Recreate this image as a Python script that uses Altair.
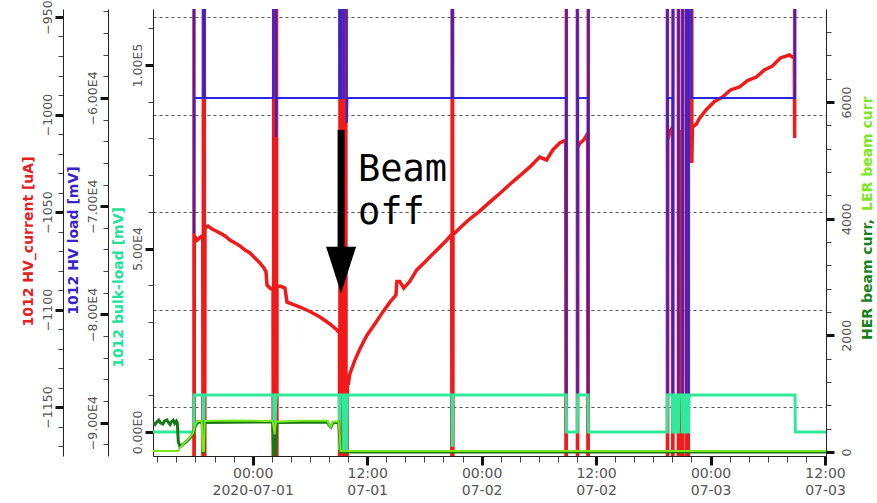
import altair as alt
import pandas as pd

# ---- data: (time "MM-DD HH:MM" in 2020, value) ----
# HV current [uA]; 0 = supply off, -1300 = transient far below the visible range
hv_current = [
    ("06-30 17:50", 0), ("06-30 17:51", -1300), ("06-30 17:53", -1062.3),
    ("06-30 18:11", -1064.4), ("06-30 18:29", -1063.0), ("06-30 18:46", -1062.0),
    ("06-30 18:49", -1300), ("06-30 18:52", 0), ("06-30 18:57", -1300),
    ("06-30 19:00", -1058.2), ("06-30 19:19", -1057.2), ("06-30 19:44", -1058.7),
    ("06-30 20:10", -1059.7), ("06-30 20:35", -1060.8), ("06-30 21:06", -1062.3),
    ("06-30 21:37", -1064.4), ("06-30 22:09", -1065.9), ("06-30 22:40", -1067.4),
    ("06-30 23:12", -1069.5), ("06-30 23:43", -1071.0), ("07-01 00:14", -1073.6),
    ("07-01 00:46", -1076.2), ("07-01 01:11", -1078.7), ("07-01 01:24", -1080.8),
    ("07-01 01:30", -1087.4), ("07-01 01:49", -1089.0), ("07-01 02:08", -1090.0),
    ("07-01 02:11", -1300), ("07-01 02:15", 0), ("07-01 02:24", -1300),
    ("07-01 02:28", 0), ("07-01 02:31", -1300), ("07-01 02:33", -1088.5),
    ("07-01 02:52", -1088.0), ("07-01 03:23", -1089.0), ("07-01 03:36", -1096.2),
    ("07-01 04:13", -1097.4), ("07-01 04:57", -1098.7), ("07-01 06:00", -1101.0),
    ("07-01 07:03", -1103.8), ("07-01 08:06", -1107.4), ("07-01 08:50", -1110.5),
    ("07-01 09:06", -1112.0), ("07-01 09:08", -1300), ("07-01 09:12", 0),
    ("07-01 09:18", -1125.0), ("07-01 09:27", -1131.0), ("07-01 09:33", -1300),
    ("07-01 09:40", 0), ("07-01 09:48", -1300), ("07-01 09:56", -1135.0),
    ("07-01 10:05", -1136.2), ("07-01 10:11", -1133.0), ("07-01 10:43", -1125.9),
    ("07-01 11:14", -1120.2), ("07-01 11:58", -1113.3), ("07-01 12:48", -1107.4),
    ("07-01 13:39", -1101.2), ("07-01 14:23", -1096.2), ("07-01 15:01", -1092.6),
    ("07-01 15:07", -1085.6), ("07-01 15:25", -1085.6), ("07-01 15:50", -1089.0),
    ("07-01 16:28", -1085.6), ("07-01 17:12", -1079.7), ("07-01 18:02", -1075.7),
    ("07-01 18:53", -1071.5), ("07-01 19:37", -1068.0), ("07-01 20:21", -1064.4),
    ("07-01 20:52", -1061.3), ("07-01 20:54", -1300), ("07-01 20:56", 0),
    ("07-01 20:58", -1300), ("07-01 21:00", -1061.0), ("07-01 21:11", -1060.8),
    ("07-01 21:43", -1058.2), ("07-01 22:45", -1053.6), ("07-01 23:48", -1049.5),
    ("07-02 00:51", -1044.9), ("07-02 01:54", -1040.5), ("07-02 02:56", -1035.9),
    ("07-02 03:59", -1031.5), ("07-02 05:02", -1027.0), ("07-02 06:05", -1021.8),
    ("07-02 06:49", -1023.3), ("07-02 07:27", -1018.2), ("07-02 08:11", -1014.6),
    ("07-02 08:49", -1013.1), ("07-02 08:52", -1300), ("07-02 08:55", 0),
    ("07-02 10:01", 0), ("07-02 10:03", -1300), ("07-02 10:05", -1016.7),
    ("07-02 10:20", -1014.6), ("07-02 10:35", -1013.6), ("07-02 10:50", -1012.1),
    ("07-02 11:07", -1009.7), ("07-02 11:10", -1300), ("07-02 11:13", 0),
    ("07-02 19:27", 0), ("07-02 19:29", -1300), ("07-02 19:31", -1013.1),
    ("07-02 19:42", -1009.0), ("07-02 20:01", -1006.4), ("07-02 20:03", -1300),
    ("07-02 20:05", 0), ("07-02 20:36", 0), ("07-02 20:38", -1300),
    ("07-02 20:40", -1008.5), ("07-02 21:00", -1009.5), ("07-02 21:02", -1300),
    ("07-02 21:04", 0), ("07-02 21:25", 0), ("07-02 21:27", -1300),
    ("07-02 21:29", -1010.0), ("07-02 21:40", -1300), ("07-02 21:42", 0),
    ("07-02 22:00", 0), ("07-02 22:02", -1024.9), ("07-02 22:06", -1006.4),
    ("07-02 22:31", -1004.9), ("07-02 22:50", -1002.0), ("07-02 23:34", -997.4),
    ("07-03 00:25", -993.3), ("07-03 01:15", -991.0), ("07-03 02:05", -987.4),
    ("07-03 03:02", -985.9), ("07-03 03:52", -982.6), ("07-03 04:48", -980.8),
    ("07-03 05:38", -977.2), ("07-03 06:29", -975.1), ("07-03 07:19", -971.0),
    ("07-03 08:16", -969.5), ("07-03 08:34", -970.5), ("07-03 08:47", -970.0),
    ("07-03 08:49", -1012.1), ("07-03 08:51", 0),
]

# HV load [mV]; 0 = supply off
hv_load = [
    ("06-30 17:50", 0), ("06-30 17:51", -72500), ("06-30 17:53", -60000),
    ("06-30 18:49", -60000), ("06-30 18:51", 0), ("06-30 18:56", 0),
    ("06-30 18:58", -60000), ("07-01 02:10", -60000), ("07-01 02:12", 0),
    ("07-01 02:24", 0), ("07-01 02:27", -63600), ("07-01 02:30", -60000),
    ("07-01 09:05", -60000), ("07-01 09:07", 0), ("07-01 09:15", 0),
    ("07-01 09:17", -60000), ("07-01 09:33", -60000), ("07-01 09:35", 0),
    ("07-01 09:48", 0), ("07-01 09:52", -62300), ("07-01 09:56", -60000),
    ("07-01 20:54", -60000), ("07-01 20:56", 0), ("07-01 20:58", -60000),
    ("07-02 08:51", -60000), ("07-02 08:53", -87400), ("07-02 08:55", 0),
    ("07-02 10:01", 0), ("07-02 10:03", -87400), ("07-02 10:05", -60000),
    ("07-02 11:08", -60000), ("07-02 11:10", -87400), ("07-02 11:13", 0),
    ("07-02 19:27", 0), ("07-02 19:29", -87400), ("07-02 19:31", -60000),
    ("07-02 20:01", -60000), ("07-02 20:03", -87400), ("07-02 20:05", 0),
    ("07-02 20:36", 0), ("07-02 20:38", -87400), ("07-02 20:40", 0),
    ("07-02 21:02", 0), ("07-02 21:04", -87400), ("07-02 21:06", 0),
    ("07-02 21:25", 0), ("07-02 21:27", -87400), ("07-02 21:29", 0),
    ("07-02 21:40", 0), ("07-02 21:42", -87400), ("07-02 21:44", 0),
    ("07-02 21:58", 0), ("07-02 22:00", -60000), ("07-03 08:51", -60000),
    ("07-03 08:53", 0),
]

# bulk load [mV]
bulk_load = [
    ("06-30 13:33", 0), ("06-30 17:50", 0), ("06-30 17:51", 10100),
    ("06-30 18:49", 10100), ("06-30 18:51", -4900), ("06-30 18:54", 10100),
    ("07-01 02:12", 10100), ("07-01 02:14", -4900), ("07-01 02:27", 10100),
    ("07-01 09:05", 10100), ("07-01 09:07", -4900), ("07-01 09:10", 10100),
    ("07-01 09:30", 10100), ("07-01 09:32", -4900), ("07-01 09:38", 10100),
    ("07-01 09:50", 10100), ("07-01 09:52", -4900), ("07-01 09:55", 10100),
    ("07-01 20:54", 10100), ("07-01 20:56", -4000), ("07-01 20:58", 10100),
    ("07-02 08:52", 10100), ("07-02 08:54", 0), ("07-02 10:02", 0),
    ("07-02 10:04", 10100), ("07-02 11:09", 10100), ("07-02 11:11", 0),
    ("07-02 19:27", 0), ("07-02 19:29", 10100), ("07-02 20:00", 10100),
    ("07-02 20:02", 0), ("07-02 20:13", 0), ("07-02 20:15", 10100),
    ("07-02 20:24", 10100), ("07-02 20:26", 0), ("07-02 20:38", 0),
    ("07-02 20:40", 10100), ("07-02 21:00", 10100), ("07-02 21:02", 0),
    ("07-02 21:15", 0), ("07-02 21:17", 10100), ("07-02 21:27", 10100),
    ("07-02 21:29", 0), ("07-02 21:42", 0), ("07-02 21:44", 10100),
    ("07-03 08:51", 10100), ("07-03 08:53", 0), ("07-03 12:06", 0),
]

# HER beam current [mA]
her_curr = [
    ("06-30 13:33", 500), ("06-30 13:45", 470), ("06-30 14:00", 520),
    ("06-30 14:10", 545), ("06-30 14:20", 500), ("06-30 14:35", 480),
    ("06-30 14:45", 530), ("06-30 15:00", 550), ("06-30 15:10", 505),
    ("06-30 15:20", 470), ("06-30 15:30", 520), ("06-30 15:40", 545),
    ("06-30 15:50", 490), ("06-30 16:00", 530), ("06-30 16:06", 500),
    ("06-30 16:12", 180), ("06-30 16:23", 90), ("06-30 16:55", 160),
    ("06-30 17:26", 240), ("06-30 17:45", 320), ("06-30 18:00", 450),
    ("06-30 18:16", 510), ("06-30 18:42", 515), ("06-30 18:47", 0),
    ("06-30 18:53", 0), ("06-30 18:58", 505), ("07-01 02:06", 515),
    ("07-01 02:12", -40), ("07-01 02:24", -40), ("07-01 02:30", 505),
    ("07-01 07:50", 515), ("07-01 08:00", 460), ("07-01 08:12", 425),
    ("07-01 08:25", 500), ("07-01 09:00", 510), ("07-01 09:08", 250),
    ("07-01 09:14", 0), ("07-03 12:06", 0),
]

# LER beam current [mA]
ler_curr = [
    ("06-30 13:33", 15), ("06-30 16:10", 15), ("06-30 16:23", 70),
    ("06-30 16:55", 170), ("06-30 17:26", 250), ("06-30 17:45", 330),
    ("06-30 18:00", 480), ("06-30 18:16", 535), ("06-30 18:40", 530),
    ("06-30 18:45", 15), ("06-30 18:53", 15), ("06-30 18:58", 530),
    ("06-30 22:00", 538), ("07-01 01:00", 532), ("07-01 02:05", 535),
    ("07-01 02:12", 420), ("07-01 02:18", 300), ("07-01 02:26", 520),
    ("07-01 05:00", 536), ("07-01 07:50", 535), ("07-01 08:00", 470),
    ("07-01 08:10", 430), ("07-01 08:25", 520), ("07-01 09:00", 525),
    ("07-01 09:08", 300), ("07-01 09:13", 15), ("07-03 12:06", 15),
]

# annotation
beam_off_label = "Beam\noff"
arrow_time = "07-01 09:16"
arrow_top_uA = -1007.9
arrow_base_uA = -1069.5
arrow_head_uA = -1079.7
label_time = "07-01 11:02"
label_uA = -1034.1


def stamp(s):
    return "2020-" + s.replace(" ", "T") + ":00"


def to_frame(points):
    return pd.DataFrame({"t": [stamp(p[0]) for p in points],
                         "v": [p[1] for p in points]})


# ---- scales ----
x_scale = alt.Scale(domain=[
    alt.DateTime(year=2020, month=6, date=30, hours=13, minutes=33),
    alt.DateTime(year=2020, month=7, date=3, hours=12, minutes=6),
])
cur_domain = [-1175.1, -945.9]
load_domain = [-93080, -51780]
bulk_domain = [-6540, 115260]
beam_domain = [-69, 7594]

x_ticks = []
for month, day, hours in [(6, 30, range(14, 24, 2)), (7, 1, range(0, 24, 2)),
                          (7, 2, range(0, 24, 2)), (7, 3, range(0, 13, 2))]:
    for h in hours:
        x_ticks.append(alt.DateTime(year=2020, month=month, date=day, hours=h))

LABEL_FONT = "DejaVu Sans"
MAJOR_X = "hours(datum.value) % 12 === 0"


def cond(test, major, minor):
    return {"condition": {"test": test, "value": major}, "value": minor}


# one x axis definition shared by every layer so the merged axis stays enabled
x_axis = alt.Axis(
    orient="bottom",
    values=x_ticks,
    labelExpr=(f"{MAJOR_X} ? [timeFormat(datum.value, '%H:%M'), "
               "timeFormat(datum.value, (date(datum.value) === 1 && hours(datum.value) === 0)"
               " ? '%Y-%m-%d' : '%m-%d')] : ''"),
    tickSize=cond(MAJOR_X, 9, 6),
    tickWidth=cond(MAJOR_X, 3, 1),
    tickColor=cond(MAJOR_X, "#111111", "#444444"),
    labelFont=LABEL_FONT, labelFontSize=14, labelColor="#555555",
    labelLineHeight=17, labelPadding=1, labelFlush=False, labelOverlap=False,
    domainColor="#222222", grid=False, title=None,
)
x_enc = alt.X("t:T", scale=x_scale, axis=x_axis)


def y_axis(orient, offset, values, test, label_expr, title, title_color,
           title_y, grid=False, baseline="bottom", pad=1):
    kw = dict(
        orient=orient, offset=offset, values=values, labelExpr=label_expr,
        tickSize=cond(test, 8, 5), tickWidth=cond(test, 3, 1),
        tickColor=cond(test, "#111111", "#444444"),
        labelFont=LABEL_FONT, labelFontSize=12.5, labelColor="#555555",
        labelAngle=-90, labelAlign="center", labelBaseline=baseline,
        labelPadding=pad, labelOverlap=False, domainColor="#222222",
        grid=grid,
    )
    if title:
        kw.update(title=title, titleColor=title_color, titleFont=LABEL_FONT,
                  titleFontSize=14, titleFontWeight="bold", titleAngle=-90,
                  titleAlign="center", titleBaseline="middle",
                  titleX=-35, titleY=title_y)
    else:
        kw.update(title=None)
    if grid:
        kw.update(gridDash=[3, 3], gridColor="#555555", gridWidth=1.2,
                  gridOpacity=cond(test, 1, 0))
    return alt.Axis(**kw)


M50 = "datum.value % 50 === 0"
cur_axis = y_axis("left", 90, list(range(-1170, -949, 10)), M50,
                  f"{M50} ? format(datum.value, 'd') : ''",
                  "1012 HV_current [uA]", "#e5201c", 232, grid=True)

M1E4 = "datum.value % 10000 === 0"
load_axis = y_axis("left", 45, list(range(-92000, -51999, 2000)), M1E4,
                   f"{M1E4} ? format(datum.value / 10000, '.2f') + 'E4' : ''",
                   "1012 HV load [mV]", "#3b22c8", 231)

M5E4 = "datum.value % 50000 === 0"
bulk_axis = y_axis("left", 0, list(range(0, 110001, 10000)), M5E4,
                   f"!({M5E4}) ? '' : datum.value === 0 ? '0.00E0' : "
                   "datum.value >= 100000 ? format(datum.value / 100000, '.2f') + 'E5' : "
                   "format(datum.value / 10000, '.2f') + 'E4'",
                   "1012 bulk-load [mV]", "#22e29a", 278)

M2000 = "datum.value % 2000 === 0"
beam_axis = y_axis("right", 0, list(range(0, 7601, 400)), M2000,
                   f"{M2000} ? format(datum.value, 'd') : ''",
                   None, None, None, baseline="top", pad=6)


def series(points, domain, axis, color, width):
    return alt.Chart(to_frame(points)).mark_line(
        clip=True, color=color, strokeWidth=width, interpolate="linear"
    ).encode(
        x=x_enc,
        y=alt.Y("v:Q", scale=alt.Scale(domain=domain, nice=False, zero=False),
                axis=axis),
    )


red = series(hv_current, cur_domain, cur_axis, "#f01a1a", 3.5)
blue = series(hv_load, load_domain, load_axis, "#2b25e0", 2)
teal = series(bulk_load, bulk_domain, bulk_axis, "#2fea9c", 3)
her = series(her_curr, beam_domain, beam_axis, "#147a14", 3)
ler = series(ler_curr, beam_domain, None, "#7ae81a", 2)

cur_scale = alt.Scale(domain=cur_domain, nice=False, zero=False)

shaft = alt.Chart(pd.DataFrame({
    "t": [stamp(arrow_time)], "v": [arrow_top_uA], "v2": [arrow_base_uA],
})).mark_rule(color="black", strokeWidth=7).encode(
    x=x_enc, y=alt.Y("v:Q", scale=cur_scale, axis=None), y2="v2:Q",
)

head = alt.Chart(to_frame([(arrow_time, arrow_head_uA)])).mark_point(
    shape="M-0.644,-1L0.644,-1L0,1Z", size=2172, filled=True,
    color="black", opacity=1,
).encode(x=x_enc, y=alt.Y("v:Q", scale=cur_scale, axis=None))

label = alt.Chart(pd.DataFrame({
    "t": [stamp(label_time)], "v": [label_uA], "txt": [beam_off_label],
})).mark_text(
    font="DejaVu Sans Mono", fontSize=37, align="left", baseline="alphabetic",
    lineBreak="\n", lineHeight=43, color="black",
).encode(x=x_enc, y=alt.Y("v:Q", scale=cur_scale, axis=None), text="txt:N")

# right-hand axis title in two colours, reading upwards
her_title = alt.Chart(pd.DataFrame({"txt": ["HER beam curr,"]})).mark_text(
    font=LABEL_FONT, fontSize=14, fontWeight="bold", angle=270,
    align="left", baseline="middle", color="#17821a",
).encode(text="txt:N", x=alt.value(715), y=alt.value(331))
ler_title = alt.Chart(pd.DataFrame({"txt": ["LER beam curr"]})).mark_text(
    font=LABEL_FONT, fontSize=14, fontWeight="bold", angle=270,
    align="left", baseline="middle", color="#7ae81a",
).encode(text="txt:N", x=alt.value(715), y=alt.value(202))

chart = alt.layer(
    red, blue, teal, her, ler, shaft, head, label, her_title, ler_title
).resolve_scale(y="independent").properties(
    width=673, height=447,
    padding={"left": 153, "top": 9, "right": 51, "bottom": 47},
    autosize=alt.AutoSizeParams(type="none"),
    background="white",
).configure_view(strokeWidth=0)

chart.save("out.html", embed_options={"renderer": "svg", "actions": False})
